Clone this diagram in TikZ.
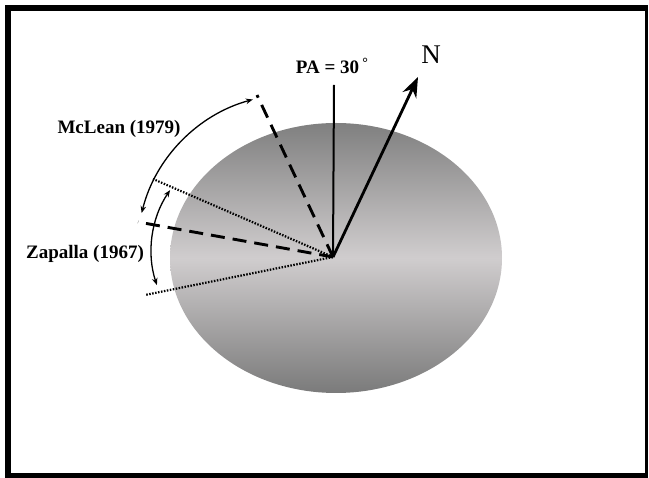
\documentclass[tikz,border=0pt]{standalone}
\usepackage{fontspec}
\setmainfont{Liberation Serif}
\usetikzlibrary{arrows.meta}
\begin{document}
\begin{tikzpicture}[x=1pt,y=-1pt,
  lbl/.style={font=\bfseries\fontsize{19}{21}\selectfont, inner sep=0pt},
  dashln/.style={line width=2.9pt, dash pattern=on 14pt off 8pt},
  dotln/.style={line width=2.2pt, dash pattern=on 1.5pt off 1.5pt},
  arcln/.style={line width=1.3pt, {Stealth[length=7pt,width=5.5pt]}-{Stealth[length=7pt,width=5.5pt]}}]
\useasboundingbox (0,0) rectangle (649,478);
% frame
\fill[black] (5,5) rectangle (648,478);
\fill[white] (11,11) rectangle (645,473);
% ellipse
\shade[top color=black!50, bottom color=black!52, middle color={rgb,255:red,208;green,205;blue,206}]
  (336,258) ellipse[x radius=166, y radius=135];
% vertex and end points
\coordinate (O) at (333,257);
\coordinate (PAend) at (334,85);
\coordinate (Ntip) at (418,77);
\coordinate (D1) at (257,95);
\coordinate (D2) at (138,222);
\coordinate (T1) at (153,179);
\coordinate (T2) at (145,295);
\coordinate (Mc) at (294,251);
\coordinate (Zc) at (260,251);
% lines
\draw[line width=2pt] (O) -- (PAend);
\draw[line width=2.8pt, -{Stealth[length=20pt,width=15pt]}] (O) -- (Ntip);
\draw[dashln] (O) -- (D1);
\draw[dashln] (O) -- (D2);
\draw[dotln] (O) -- (T1);
\draw[dotln] (O) -- (T2);
% arcs
\draw[arcln] ([shift={(-105.2:157)}]Mc) arc[start angle=-105.2, end angle=-166, radius=157];
\draw[arcln] ([shift={(-145.9:108.6)}]Zc) arc[start angle=-145.9, end angle=-198.3, radius=108.6];
% labels
\node[lbl] (pa) at (332,66) {PA = 30\,\raisebox{0.7ex}{\fontsize{14}{14}\selectfont°}};
\node[inner sep=0pt, font=\fontsize{27}{28}\selectfont] (n) at (431,55) {N};
\node[lbl] (mc) at (119,129) {McLean (1979)};
\node[lbl] (za) at (85,254) {Zapalla (1967)};
\end{tikzpicture}
\end{document}
